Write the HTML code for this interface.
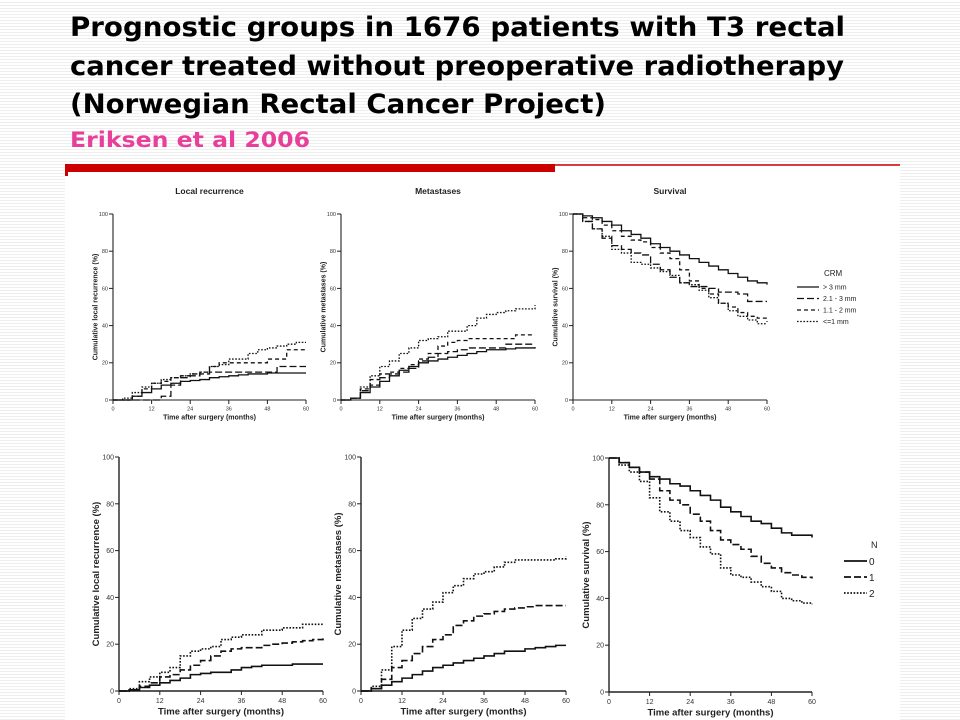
<!DOCTYPE html>
<html><head><meta charset="utf-8">
<style>
html,body{margin:0;padding:0}
body{width:960px;height:720px;overflow:hidden;background:#fff repeating-linear-gradient(to bottom,#fff 0,#fff 2px,#eeeeee 2px,#eeeeee 3px);font-family:"Liberation Sans",sans-serif}
svg{position:absolute;left:0;top:0}
</style></head>
<body>
<svg id="s" width="960" height="720" viewBox="0 0 960 720">
<text x="70" y="36" font-family="'DejaVu Sans',sans-serif" font-weight="bold" font-size="27" textLength="775" lengthAdjust="spacingAndGlyphs">Prognostic groups in 1676 patients with T3 rectal</text>
<text x="70" y="75" font-family="'DejaVu Sans',sans-serif" font-weight="bold" font-size="27" textLength="774" lengthAdjust="spacingAndGlyphs">cancer treated without preoperative radiotherapy</text>
<text x="70" y="113" font-family="'DejaVu Sans',sans-serif" font-weight="bold" font-size="27" textLength="536" lengthAdjust="spacingAndGlyphs">(Norwegian Rectal Cancer Project)</text>
<text x="70" y="147" font-family="'DejaVu Sans',sans-serif" font-weight="bold" font-size="21" fill="#e8409a" textLength="240" lengthAdjust="spacingAndGlyphs">Eriksen et al 2006</text>
<rect x="65" y="166" width="835" height="554" fill="#fff"/>
<rect x="65" y="164" width="490" height="8" fill="#cc0000"/>
<rect x="65" y="164" width="3" height="12" fill="#cc0000"/>
<line x1="555" y1="165" x2="900" y2="165" stroke="#cc0000" stroke-width="1.5"/>
<g id="charts"></g>
</svg>
<script>
const months=[0,3,6,9,12,15,18,21,24,27,30,33,36,39,42,45,48,51,54,57,60];
const xTicks=[0,12,24,36,48,60];
const yTicks=[0,20,40,60,80,100];
// Local recurrence by CRM
const lrCrm3=[0,0,2,4,6,8,9,10,10.5,11,12,12.5,13,13.5,14,14,14.5,14.5,14.5,14.5,14.5];
const lrCrm2=[0,0,0,0,0,2,8,12,13,14,15,15,15,15,15,15,15,18,18,18,18];
const lrCrm1=[0,0,2,6,9,10,12,13,14,15,18,20,20,20,20,20,22,22,27,27,27];
const lrCrm0=[0,1,4,7,9,11,12,13,14,15,18,19,22,22,25,27,28,29,30,31,31];
// Metastases by CRM
const mCrm3=[0,1,4,7,10,13,16,18,20,21,22,23,24,25,26,27,27,27.5,28,28,28.5];
const mCrm2=[0,1,5,8,12,14,15,17,21,23,25,26,27,28,28,28,28,30,30,30,30];
const mCrm1=[0,1,6,11,14,15,17,19,22,25,29,31,32,33,33,33,33,33,35,35,35];
const mCrm0=[0,1,7,13,18,21,25,28,32,33,34,37,37,40,44,46,47,48,49,49,51];
// Survival by CRM
const sCrm3=[100,99,98,96,94,91,89,87,84,82,80,78,76,74,72,70,68,66,64,63,62];
const sCrm2=[100,96,92,87,83,81,79,78,73,70,66,63,61,61,60,58,58,57,53,53,53];
const sCrm1=[100,98,97,94,91,88,86,85,82,79,76,70,64,60,57,52,50,47,45,44,42];
const sCrm0=[100,96,92,88,81,79,74,73,71,69,67,63,62,59,55,52,48,45,43,41,41];
// Local recurrence by N
const lrN0=[0,0.5,1.5,2.5,3.5,4.5,5.5,7,7.5,8,8,9,10,10.5,11,11,11,11.5,11.5,11.5,11.5];
const lrN1=[0,0.5,2,3.5,6,7,9,11,13,15,17,18,18.5,18.5,19.5,20,20.5,21,21.5,22,22.5];
const lrN2=[0,1,4,6,8,10,15,17,18,19,22,23,24,24,26,26,27,27,28.5,28.5,29];
// Metastases by N
const mN0=[0,1,2.5,4,5.5,7,8.5,10,11,12,13,14,15,16,17,17,18,18.5,19,19.5,19.5];
const mN1=[0,1,5,10,13,16,19,22,24,28,30,32,33,34,35,35.5,36,36.5,36.5,36.5,36.5];
const mN2=[0,2,9,19,26,31,35,38,42,45,48,50,51,53,55,56,56,56,56,56.5,57.5];
// Survival by N
const sN0=[100,98,96,94,92,91,89,88,86,84,82,79,77,75,73,72,70,68,67,67,66];
const sN1=[100,98,96,94,91,86,82,80,76,73,69,65,63,61,58,55,53,51,50,49,48.5];
const sN2=[100,97,94,90,83,77,73,69,66,62,59,53,50,49,47,45,43,40,39,38,37.5];
const crmLabels=["> 3 mm","2.1 - 3 mm","1.1 - 2 mm","<=1 mm"];
const nLabels=["0","1","2"];

const NS="http://www.w3.org/2000/svg";
const root=document.getElementById('charts');
const styles={solid:"",long:"7,3",dash:"4,3",dot:"1.6,1.6"};
function mk(tag,attrs,parent){const e=document.createElementNS(NS,tag);for(const k in attrs)e.setAttribute(k,attrs[k]);(parent||root).appendChild(e);return e;}

function panel(p){
  const g=mk('g',{});
  
  
  const sx=v=>p.x0+(p.x1-p.x0)*v/60;
  const sy=v=>p.y0-(p.y0-p.y1)*v/100;
  const fs=p.fs, ts=p.ts;
  const ax=mk('path',{d:`M${sx(0)},${sy(100)}V${sy(0)}H${sx(60)}`,fill:'none',stroke:'#222','stroke-width':p.big?1.4:1.1},g);
  
  
  yTicks.forEach(t=>{
    mk('line',{x1:sx(0)-4,x2:sx(0),y1:sy(t),y2:sy(t),stroke:'#222','stroke-width':1},g);
    const tx=mk('text',{x:sx(0)-5,y:sy(t)+fs*0.35,'font-size':fs,'text-anchor':'end',fill:'#333'},g);
    tx.textContent=t;
    
    
  });
  xTicks.forEach(t=>{
    mk('line',{x1:sx(t),x2:sx(t),y1:sy(0),y2:sy(0)+4,stroke:'#222','stroke-width':1},g);
    const tx=mk('text',{x:sx(t),y:sy(0)+5+fs,'font-size':fs,'text-anchor':'middle',fill:'#333'},g);
    tx.textContent=t;
    
    
  });
  const xt=mk('text',{x:(sx(0)+sx(60))/2,y:sy(0)+7+fs+ts,'font-size':ts,'font-weight':'bold','text-anchor':'middle',fill:'#222'},g);
  xt.textContent="Time after surgery (months)";
  
  
  const yx=sx(0)-fs*2.2-ts*0.5;
  const yt=mk('text',{x:yx,y:sy(50),'font-size':ts,'font-weight':'bold','text-anchor':'middle',fill:'#222',transform:`rotate(-90 ${yx} ${sy(50)})`},g);
  yt.textContent=p.ytitle;
  
  
  if(p.title){
    const tt=mk('text',{x:(sx(0)+sx(60))/2,y:p.y1-20,'font-size':8.5,'font-weight':'bold','text-anchor':'middle',fill:'#222'},g);
    tt.textContent=p.title;
    
    
  }
  p.series.forEach((s,i)=>{
    let d=`M${sx(months[0])},${sy(s.v[0])}`;
    for(let k=1;k<months.length;k++){d+=`H${sx(months[k])}V${sy(s.v[k])}`;}
    const a={d,fill:'none',stroke:'#111','stroke-width':p.big?1.6:1.3};
    if(styles[s.st])a['stroke-dasharray']=styles[s.st];
    const l=mk('path',a,g);
    
    
  });
}

const crmStyles=["solid","long","dash","dot"];
const nStyles=["solid","long","dot"];
const topCfg={y0:400,y1:214,fs:5.5,ts:7};
panel(Object.assign({name:'chart-local-recurrence-crm',x0:113,x1:306,title:'Local recurrence',ytitle:'Cumulative local recurrence (%)',
  series:[lrCrm3,lrCrm2,lrCrm1,lrCrm0].map((v,i)=>({v,st:crmStyles[i],key:'crm-'+i}))},topCfg));
panel(Object.assign({name:'chart-metastases-crm',x0:341,x1:535,title:'Metastases',ytitle:'Cumulative metastases (%)',
  series:[mCrm3,mCrm2,mCrm1,mCrm0].map((v,i)=>({v,st:crmStyles[i],key:'crm-'+i}))},topCfg));
panel(Object.assign({name:'chart-survival-crm',x0:573,x1:767,title:'Survival',ytitle:'Cumulative survival (%)',
  series:[sCrm3,sCrm2,sCrm1,sCrm0].map((v,i)=>({v,st:crmStyles[i],key:'crm-'+i}))},topCfg));
const botCfg={fs:7,ts:9.5,big:true};
panel(Object.assign({name:'chart-local-recurrence-n',x0:119,x1:323,y0:691,y1:457,ytitle:'Cumulative local recurrence (%)',
  series:[lrN0,lrN1,lrN2].map((v,i)=>({v,st:nStyles[i],key:'n-'+i}))},botCfg));
panel(Object.assign({name:'chart-metastases-n',x0:361,x1:566,y0:691,y1:457,ytitle:'Cumulative metastases (%)',
  series:[mN0,mN1,mN2].map((v,i)=>({v,st:nStyles[i],key:'n-'+i}))},botCfg));
panel(Object.assign({name:'chart-survival-n',x0:609,x1:812,y0:692,y1:458,ytitle:'Cumulative survival (%)',
  series:[sN0,sN1,sN2].map((v,i)=>({v,st:nStyles[i],key:'n-'+i}))},botCfg));

// legends
const lg1=mk('g',{});


const ct=mk('text',{x:824,y:276,'font-size':8,fill:'#222'},lg1);ct.textContent="CRM";
crmLabels.forEach((lab,i)=>{
  const y=287+i*11.5;
  const a={x1:797,x2:819,y1:y,y2:y,stroke:'#111','stroke-width':1.3};
  if(styles[crmStyles[i]])a['stroke-dasharray']=styles[crmStyles[i]];
  mk('line',a,lg1);
  const t=mk('text',{x:823,y:y+2.5,'font-size':7,fill:'#222'},lg1);t.textContent=lab;
  
  
});
const lg2=mk('g',{});


const nt=mk('text',{x:871,y:548,'font-size':9,fill:'#222'},lg2);nt.textContent="N";
nLabels.forEach((lab,i)=>{
  const y=561+i*16;
  const a={x1:844,x2:867,y1:y,y2:y,stroke:'#111','stroke-width':1.8};
  if(styles[nStyles[i]])a['stroke-dasharray']=styles[nStyles[i]];
  mk('line',a,lg2);
  const t=mk('text',{x:869,y:y+4,'font-size':10,fill:'#222'},lg2);t.textContent=lab;
  
  
});
</script>
</body></html>
